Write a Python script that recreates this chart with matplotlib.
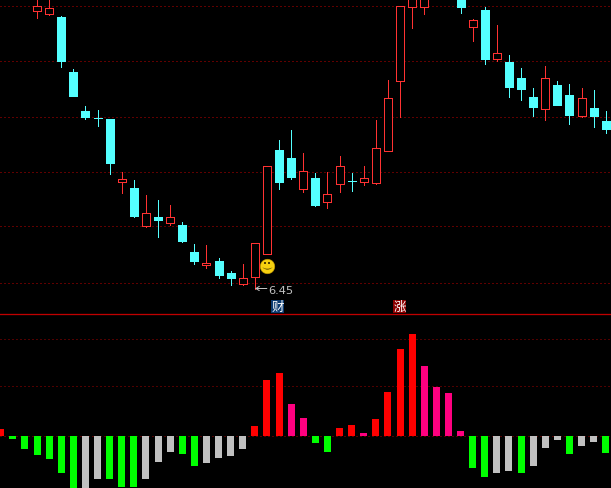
import matplotlib
matplotlib.use('Agg')
import matplotlib.pyplot as plt

plt.rcParams['font.family'] = ['Noto Sans CJK SC', 'DejaVu Sans']

# candles start at bar index 3 (36-37 run above the visible range)
first_candle = 3
highs = [12.26, 12.24, 11.90, 10.84, 10.10, 10.02, 9.84, 8.78, 8.62, 8.32, 8.22, 8.12,
         7.78, 7.34, 7.32, 7.06, 6.80, 6.94, 7.37, 8.91, 9.42, 9.62, 9.16, 8.76,
         8.78, 9.10, 8.76, 8.90, 9.82, 10.62, 12.09, 12.42, 12.42, 12.70, 12.70, 12.50,
         11.84, 12.08, 11.72, 11.12, 10.86, 10.46, 10.90, 10.60, 10.54, 10.46, 10.42, 10.00]
lows = [11.87, 11.93, 10.88, 10.30, 9.84, 9.70, 8.74, 8.36, 7.88, 7.68, 7.48, 7.72,
        7.38, 6.94, 6.86, 6.66, 6.52, 6.52, 6.45, 7.15, 8.44, 8.64, 8.38, 8.10,
        8.06, 8.38, 8.40, 8.52, 8.54, 9.21, 9.88, 11.66, 11.94, 12.40, 12.40, 11.96,
        11.40, 10.94, 11.00, 10.28, 10.22, 9.90, 9.82, 10.12, 9.74, 9.89, 9.68, 9.56]
opens = [12.01, 11.95, 11.88, 10.78, 10.00, 9.87, 9.84, 8.59, 8.46, 7.71, 7.88, 7.77,
         7.72, 7.18, 6.93, 7.00, 6.76, 6.55, 6.69, 7.15, 9.22, 9.06, 8.45, 8.66,
         8.19, 8.55, 8.61, 8.59, 8.57, 9.21, 10.61, 12.09, 12.09, 12.60, 12.60, 12.40,
         11.69, 12.02, 11.04, 10.98, 10.66, 10.28, 10.05, 10.52, 10.32, 9.91, 10.06, 9.80]
closes = [12.09, 12.05, 11.00, 10.30, 9.88, 9.87, 8.96, 8.63, 7.90, 7.97, 7.82, 7.89,
          7.40, 7.00, 6.97, 6.72, 6.66, 6.67, 7.37, 8.91, 8.58, 8.68, 8.81, 8.12,
          8.33, 8.91, 8.61, 8.67, 9.27, 10.27, 12.09, 12.38, 12.38, 12.50, 12.50, 12.09,
          11.81, 11.04, 11.15, 10.48, 10.44, 10.08, 10.67, 10.12, 9.92, 10.26, 9.90, 9.64]
price_levels = [12.10, 11.01, 9.89, 8.79, 7.70, 6.57]
low_price = 6.45

# histogram, one per bar index from 0
hist = [7, -3, -13, -19, -23, -37, -54, -54, -43, -43, -51, -51, -43, -26, -16, -18, -30,
        -27, -22, -20, -13, 10, 56, 63, 32, 18, -7, -16, 8, 11, 3, 17, 44, 87, 102, 70, 49,
        43, 5, -32, -41, -37, -35, -37, -30, -12, -4, -18, -10, -6, -17]
hist_kind = list('RGGGGGGSSGGGSSSGGSSSSRRRPPGGRRPRRRRPPPPGGSSGSSSGSSG')
hist_levels = [0, 50, 97]

RED = '#ff3232'
CYAN = '#54ffff'
kind_colors = {'R': '#ff0000', 'P': '#ff0080', 'G': '#00ff00', 'S': '#c0c0c0'}
PX = 0.72

fig = plt.figure(figsize=(6.11, 4.89), dpi=100, facecolor='black')
split = 174.5 / 489
ax = fig.add_axes([0, split, 1, 1 - split])
ax2 = fig.add_axes([0, 0, 1, split])
ax.set_zorder(2)

for a in (ax, ax2):
    a.set_facecolor('black')
    a.set_xlim(-0.06, 50.43)
    a.set_xticks([])
    a.tick_params(axis='y', length=0, labelleft=False)
    a.set_axisbelow(True)
    for s in a.spines.values():
        s.set_visible(False)

ax.set_ylim(5.95, 12.24)
ax.set_yticks(price_levels)
ax.grid(axis='y', color='#c00000', linewidth=PX, linestyle=(0, (1, 3)))
ax.spines['bottom'].set_visible(True)
ax.spines['bottom'].set_color('#c00000')
ax.spines['bottom'].set_linewidth(PX * 1.3)

for n in range(len(highs)):
    i = first_candle + n
    up = closes[n] > opens[n]
    c = RED if up else CYAN
    ax.vlines(i, lows[n], highs[n], colors=c, linewidth=PX, antialiased=False, zorder=3)
    ax.bar(i, closes[n] - opens[n], bottom=opens[n], width=0.66,
           facecolor='black' if up else c, edgecolor=c, linewidth=PX,
           antialiased=False, zorder=4)

# low price marker
ax.annotate('', xy=(21, low_price), xytext=(12, 0), textcoords='offset pixels',
            arrowprops=dict(arrowstyle='->,head_length=0.25,head_width=0.15', color='#c0c0c0',
                            lw=PX, shrinkA=0, shrinkB=0), zorder=6)
ax.annotate('6.45', xy=(21, low_price), xytext=(13, -1), textcoords='offset pixels',
            ha='left', va='center', fontsize=8.2, color='#c0c0c0', family='DejaVu Sans', zorder=6)

# smiley next to the big candle
ax.plot(22, 6.91, 'o', ms=10.5, color='#f5d010', mec='#b89000', mew=0.4, zorder=5)
ax.plot([21.8, 22.2], [6.96, 6.96], 's', ms=1.5, color='#504000', mew=0, zorder=6)
ax.plot(22, 6.87, marker=r'$\smile$', ms=7, color='#504000', mew=0, zorder=6)

ax.text(22.88, 6.09, '财', color='white', fontsize=9, ha='center', va='center', zorder=6,
        bbox=dict(facecolor='#0a3a70', edgecolor='none', pad=0.3))
ax.text(32.94, 6.09, '涨', color='white', fontsize=9, ha='center', va='center', zorder=6,
        bbox=dict(facecolor='#8b0000', edgecolor='none', pad=0.3))

ax2.set_ylim(-52.5, 122)
ax2.set_yticks(hist_levels)
ax2.grid(axis='y', color='#a00000', linewidth=PX, linestyle=(0, (1, 3)))
ax2.bar(range(len(hist)), hist, width=0.58, color=[kind_colors[k] for k in hist_kind],
        antialiased=False, zorder=3)

fig.savefig('out.png', dpi=100, facecolor='black')
